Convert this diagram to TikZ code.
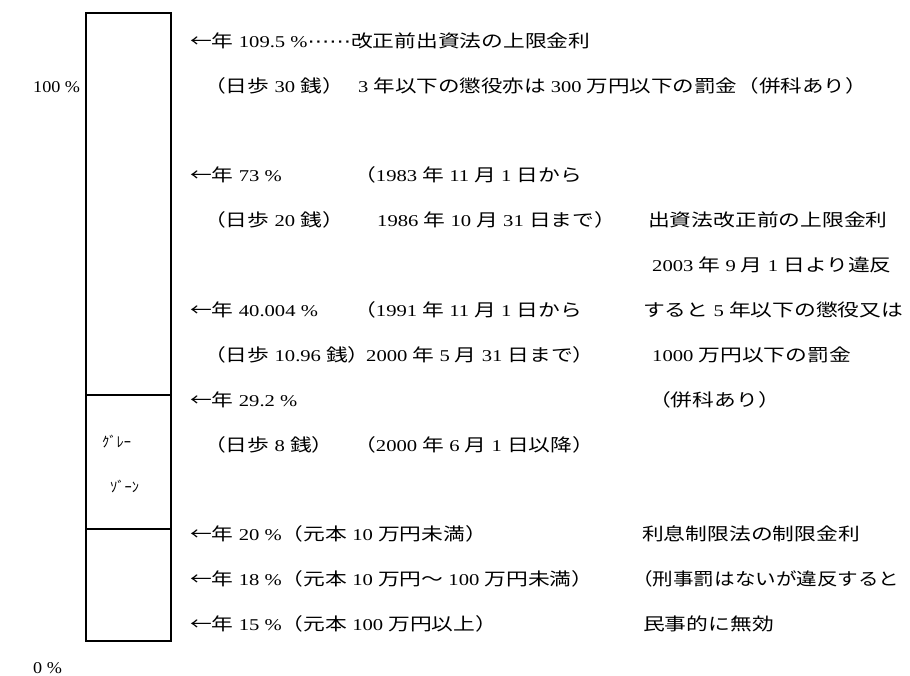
\documentclass[tikz,border=0pt]{standalone}
\usepackage{fontspec}
\setmainfont{Liberation Serif}[FakeStretch=1.25]
\newfontfamily\plainlat{Liberation Serif}[FakeStretch=1.1]
\newfontfamily\cjkf{Noto Sans CJK JP}[Scale=1.055,FakeStretch=1.25]
\newfontfamily\cjkn{Noto Sans CJK JP}
\newfontfamily\dotsf{DejaVu Sans}[Scale=1.055,FakeStretch=1.25]
\XeTeXinterchartokenstate=1
\newXeTeXintercharclass\cjkcls
\newcount\cjkcnt
\def\cjkrange#1#2{\cjkcnt=#1\relax
  \loop\XeTeXcharclass\cjkcnt=\cjkcls\relax
  \ifnum\cjkcnt<#2\advance\cjkcnt by 1\relax\repeat}
\cjkrange{"2190}{"2190}
\cjkrange{"3000}{"30FF}
\cjkrange{"4E00}{"9FFF}
\cjkrange{"FF00}{"FFEF}
\XeTeXinterchartoks 0 \cjkcls={\begingroup\cjkf}
\XeTeXinterchartoks 4095 \cjkcls={\begingroup\cjkf}
\XeTeXinterchartoks \cjkcls 0={\endgroup}
\XeTeXinterchartoks \cjkcls 4095={\endgroup}
\newcommand\plainkana[1]{{\XeTeXinterchartokenstate=0\relax\cjkn #1}}
\newcommand\midellipsis{{\dotsf ⋯⋯}}
\begin{document}
\begin{tikzpicture}[x=1pt,y=-1pt,
  txt/.style={anchor=base west,inner sep=0pt,font=\fontsize{16.5}{20}\selectfont},
  lab/.style={anchor=base west,inner sep=0pt,font=\fontsize{16.5}{20}\selectfont\plainlat},
  kana/.style={anchor=base west,inner sep=0pt,font=\fontsize{14.5}{16}\selectfont},
  bar/.style={line width=1.6pt}]
\useasboundingbox (0,0) rectangle (910,675);
% bar
\draw[bar] (86,13) rectangle (171,641);
\draw[bar] (86,395) -- (171,395);
\draw[bar] (86,529) -- (171,529);
\node[kana] (gray) at (102,447) {\plainkana{ｸﾞﾚｰ}};
\node[kana] (zone) at (110,492) {\plainkana{ｿﾞｰﾝ}};
% scale
\node[lab] (p100) at (33,92) {100 \%};
\node[lab] (p0) at (33,673) {0 \%};
% rows
\node[txt] (r1) at (190,47) {←年 109.5 \%\midellipsis 改正前出資法の上限金利};
\node[txt] (r2a) at (204,92) {（日歩 30 銭）};
\node[txt] (r2b) at (358,92) {\scalebox{0.99}[1]{3 年以下の懲役亦は 300 万円以下の罰金（併科あり）}};
\node[txt] (r3a) at (190,181) {←年 73 \%};
\node[txt] (r3b) at (354,181) {（1983 年 11 月 1 日から};
\node[txt] (r4a) at (204,226) {（日歩 20 銭）};
\node[txt] (r4b) at (377,226) {1986 年 10 月 31 日まで）};
\node[txt] (r4c) at (648,226) {出資法改正前の上限金利};
\node[txt] (r5c) at (652,271) {2003 年 9 月 1 日より違反};
\node[txt] (r6a) at (190,316) {←年 40.004 \%};
\node[txt] (r6b) at (354,316) {（1991 年 11 月 1 日から};
\node[txt] (r6c) at (643,316) {すると 5 年以下の懲役又は};
\node[txt] (r7a) at (204,361) {（日歩 10.96 銭）};
\node[txt] (r7b) at (366,361) {2000 年 5 月 31 日まで）};
\node[txt] (r7c) at (652,361) {1000 万円以下の罰金};
\node[txt] (r8a) at (190,406) {←年 29.2 \%};
\node[txt] (r8c) at (649,406) {（併科あり）};
\node[txt] (r9a) at (204,451) {（日歩 8 銭）};
\node[txt] (r9b) at (354,451) {（2000 年 6 月 1 日以降）};
\node[txt] (r11a) at (190,540) {←年 20 \%（元本 10 万円未満）};
\node[txt] (r11c) at (642,540) {利息制限法の制限金利};
\node[txt] (r12a) at (190,585) {←年 18 \%（元本 10 万円～ 100 万円未満）};
\node[txt] (r12c) at (632,585) {\scalebox{0.945}[1]{（刑事罰はないが違反すると}};
\node[txt] (r13a) at (190,630) {←年 15 \%（元本 100 万円以上）};
\node[txt] (r13c) at (643,630) {民事的に無効};
\end{tikzpicture}
\end{document}
